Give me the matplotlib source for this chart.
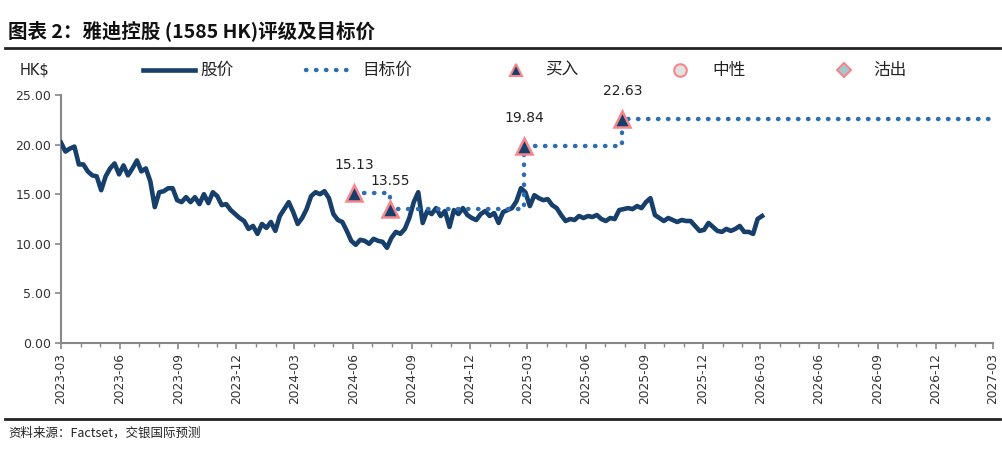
import matplotlib
matplotlib.use('Agg')
import matplotlib.pyplot as plt
import matplotlib.dates as mdates
import pandas as pd

plt.rcParams['font.family'] = ['Noto Sans CJK SC', 'DejaVu Sans']

# 股价（周度，HK$）
price_values = [
    20.2, 19.3, 19.6, 19.8, 18.0, 18.0, 17.3, 16.9, 16.8, 15.4,
    16.8, 17.6, 18.1, 17.0, 17.9, 16.9, 17.6, 18.4, 17.3, 17.6,
    16.3, 13.7, 15.2, 15.3, 15.6, 15.6, 14.4, 14.2, 14.7, 14.2,
    14.7, 14.0, 15.0, 14.1, 15.2, 14.8, 13.9, 14.0, 13.4, 13.0,
    12.6, 12.3, 11.5, 11.8, 11.0, 12.0, 11.6, 12.2, 11.3, 12.8,
    13.5, 14.2, 13.2, 12.0, 12.6, 13.5, 14.8, 15.2, 15.0, 15.3,
    14.6, 13.0, 12.4, 12.2, 11.3, 10.3, 9.9, 10.4, 10.3, 10.0,
    10.5, 10.3, 10.2, 9.6, 10.6, 11.2, 11.0, 11.5, 12.6, 14.2,
    15.2, 12.1, 13.3, 13.0, 13.6, 12.8, 13.3, 11.7, 13.4, 13.0,
    13.6, 12.9, 12.6, 12.4, 13.0, 13.3, 12.8, 13.1, 12.1, 13.2,
    13.4, 13.6, 14.3, 15.6, 15.2, 13.8, 14.9, 14.6, 14.4, 14.5,
    13.9, 13.6, 12.9, 12.3, 12.5, 12.4, 12.8, 12.6, 12.8, 12.7,
    12.9, 12.5, 12.3, 12.6, 12.5, 13.4, 13.5, 13.6, 13.5, 13.8,
    13.6, 14.2, 14.6, 12.9, 12.6, 12.3, 12.6, 12.4, 12.2, 12.4,
    12.3, 12.3, 11.8, 11.3, 11.4, 12.1, 11.7, 11.3, 11.2, 11.5,
    11.3, 11.5, 11.8, 11.2, 11.2, 11.0, 12.5, 12.8,
]
price_dates = pd.date_range('2023-03-01', periods=len(price_values), freq='7D')

# 目标价及评级（买入）
target_dates = pd.to_datetime(['2024-06-03', '2024-07-29', '2025-02-24', '2025-07-28'])
target_prices = [15.13, 13.55, 19.84, 22.63]
target_end = pd.Timestamp('2027-03-01')

navy = '#173F6B'
dot_blue = '#2E6DB4'
pink = '#F4868C'

fig = plt.figure(figsize=(10.03, 4.54), dpi=100)
ax = fig.add_axes([61/1003, 1-343/454, (993-61)/1003, (343-95)/454])

ax.plot(price_dates, price_values, color=navy, lw=3.3, solid_joinstyle='round', zorder=3)

step_x = list(target_dates) + [target_end]
step_y = target_prices + [target_prices[-1]]
ax.plot(step_x, step_y, drawstyle='steps-post', color=dot_blue, lw=3.2,
        linestyle=(0, (0.1, 2.15)), dash_capstyle='round', zorder=4)

ax.plot(target_dates, target_prices, linestyle='none', marker='^', markersize=11,
        markerfacecolor=navy, markeredgecolor=pink, markeredgewidth=1.8, zorder=5)
for d, v in zip(target_dates, target_prices):
    ax.annotate(f'{v:.2f}', (d, v), xytext=(0, 15), textcoords='offset points',
                ha='center', va='bottom', fontsize=10, color='#222222',
                family='DejaVu Sans')

ax.set_xlim(pd.Timestamp('2023-03-01'), target_end)
ax.set_ylim(0, 25)
ax.set_yticks([0, 5, 10, 15, 20, 25])
ax.yaxis.set_major_formatter(matplotlib.ticker.FormatStrFormatter('%.2f'))
ax.xaxis.set_major_locator(mdates.MonthLocator(bymonth=[3, 6, 9, 12]))
ax.xaxis.set_minor_locator(mdates.MonthLocator())
ax.xaxis.set_major_formatter(mdates.DateFormatter('%Y-%m'))
for lab in ax.get_xticklabels():
    lab.set_rotation(90)

ax.tick_params(axis='x', which='major', direction='out', length=4, width=1.2,
               color='#888888', labelsize=8.8, labelcolor='#333333', pad=3)
ax.tick_params(axis='x', which='minor', direction='out', length=3, width=1.0,
               color='#888888')
ax.tick_params(axis='y', direction='out', length=4, width=1.2, color='#888888',
               labelsize=9, labelcolor='#333333', pad=3)
for lab in ax.get_xticklabels() + ax.get_yticklabels():
    lab.set_family('DejaVu Sans')

for s in ['top', 'right']:
    ax.spines[s].set_visible(False)
for s in ['left', 'bottom']:
    ax.spines[s].set_color('#888888')
    ax.spines[s].set_linewidth(1.5)

# 标题、图例和来源（像素坐标的覆盖层）
ov = fig.add_axes([0, 0, 1, 1], facecolor='none')
ov.set_xlim(0, 1003)
ov.set_ylim(454, 0)
ov.axis('off')

ov.text(8, 31, '图表 2：雅迪控股 (1585 HK)评级及目标价', fontsize=14,
        fontweight='bold', va='center', ha='left', color='#111111')
ov.plot([5, 1000], [48, 48], color='#222222', lw=2)
ov.plot([5, 1000], [419, 419], color='#222222', lw=2)
ov.text(8, 433, '资料来源：Factset，交银国际预测', fontsize=9, style='italic',
        va='center', ha='left', color='#222222')

ov.text(20, 70, 'HK$', fontsize=10.5, va='center', ha='left', color='#222222',
        family='DejaVu Sans')
ov.plot([143, 195], [70, 70], color=navy, lw=3.3)
ov.text(200, 70, '股价', fontsize=12, va='center', ha='left', color='#222222')
ov.plot([306, 356], [70, 70], color=dot_blue, lw=3.2, linestyle=(0, (0.1, 2.15)),
        dash_capstyle='round')
ov.text(362, 70, '目标价', fontsize=12, va='center', ha='left', color='#222222')
ov.plot([516], [70], marker='^', markersize=9, markerfacecolor=navy,
        markeredgecolor=pink, markeredgewidth=1.5)
ov.text(545, 70, '买入', fontsize=12, va='center', ha='left', color='#222222')
ov.plot([680], [70], marker='o', markersize=9, markerfacecolor='#E2E2E2',
        markeredgecolor=pink, markeredgewidth=1.5)
ov.text(712, 70, '中性', fontsize=12, va='center', ha='left', color='#222222')
ov.plot([844], [70], marker='D', markersize=7.5, markerfacecolor='#A3C9CD',
        markeredgecolor=pink, markeredgewidth=1.5)
ov.text(873, 70, '沽出', fontsize=12, va='center', ha='left', color='#222222')

fig.savefig('out.png', dpi=100)
